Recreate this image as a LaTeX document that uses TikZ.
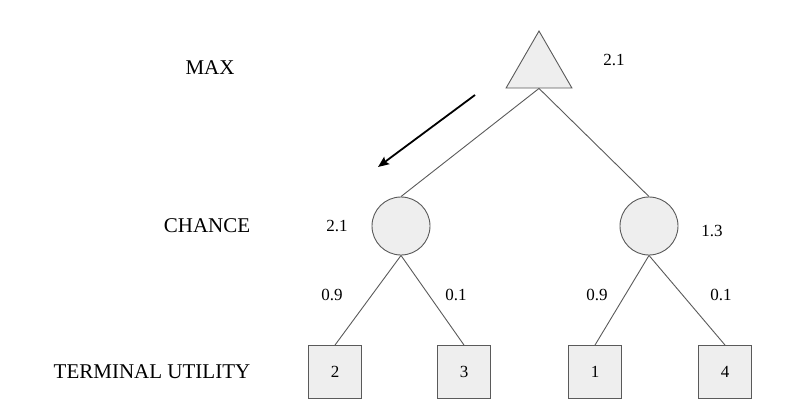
\documentclass[tikz,border=0pt]{standalone}
\usepackage{fontspec}
\setmainfont{Liberation Serif}
\usetikzlibrary{shapes.geometric,arrows.meta}
\definecolor{nodefill}{HTML}{EEEEEE}
\definecolor{edgegray}{HTML}{5A5A5A}
\begin{document}
\begin{tikzpicture}[x=1pt, y=-1pt,
	maxnode/.style={regular polygon, regular polygon sides=3, draw=edgegray, line width=0.9pt, fill=nodefill, minimum size=76pt, inner sep=0pt},
	chancenode/.style={circle, draw=edgegray, line width=0.9pt, fill=nodefill, minimum size=58pt, inner sep=0pt},
	leafnode/.style={rectangle, draw=edgegray, line width=0.9pt, fill=nodefill, minimum size=53pt, inner sep=0pt, font=\fontsize{17}{20}\selectfont},
	edge/.style={draw=edgegray, line width=0.9pt},
	val/.style={font=\fontsize{17}{20}\selectfont},
	level/.style={font=\fontsize{21}{25}\selectfont}]
\useasboundingbox (0,0) rectangle (787,420);
	% row labels
	\node[level] (lmax) at (210,68) {MAX};
	\node[level] (lchance) at (207,226) {CHANCE};
	\node[level] (lterm) at (152,372) {TERMINAL UTILITY};
	% tree
	\node[maxnode] (max) at (539,69) {};
	\node[chancenode] (c1) at (401,226) {};
	\node[chancenode] (c2) at (649,226) {};
	\node[leafnode] (t1) at (335,372) {2};
	\node[leafnode] (t2) at (464,372) {3};
	\node[leafnode] (t3) at (595,372) {1};
	\node[leafnode] (t4) at (725,372) {4};
	\draw[edge] (max.side 2) -- (c1.north);
	\draw[edge] (max.side 2) -- (c2.north);
	\draw[edge] (c1.south) -- (t1.north);
	\draw[edge] (c1.south) -- (t2.north);
	\draw[edge] (c2.south) -- (t3.north);
	\draw[edge] (c2.south) -- (t4.north);
	% values
	\node[val] (vmax) at (614,60) {2.1};
	\node[val] (vc1) at (337,226) {2.1};
	\node[val] (vc2) at (712,231) {1.3};
	\node[val] (p1) at (332,295) {0.9};
	\node[val] (p2) at (456,295) {0.1};
	\node[val] (p3) at (597,295) {0.9};
	\node[val] (p4) at (721,295) {0.1};
	% best move
	\coordinate (arrtail) at (475,95);
	\coordinate (arrtip) at (378,167);
	\draw[line width=1.8pt, -{Stealth[length=11pt, width=9pt, inset=2pt]}] (arrtail) -- (arrtip);
\end{tikzpicture}
\end{document}
